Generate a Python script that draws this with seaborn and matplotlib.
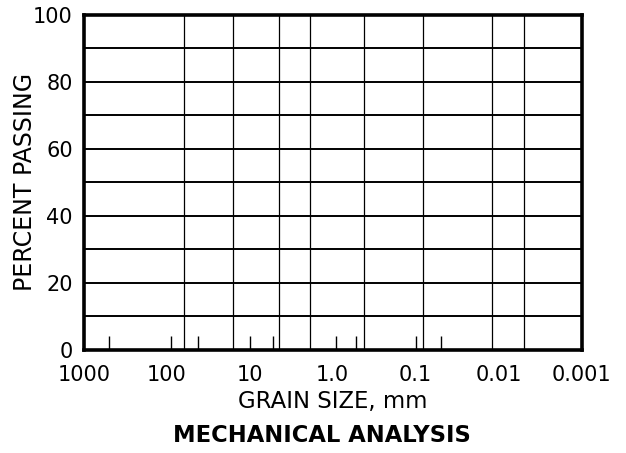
import matplotlib
matplotlib.use("Agg")
import matplotlib.pyplot as plt
import seaborn as sns
from matplotlib.ticker import FixedLocator, NullFormatter

# grain size axis (mm)
decade_ticks = [1000, 100, 10, 1, 0.1, 0.01, 0.001]
decade_labels = ["1000", "100", "10", "1.0", "0.1", "0.01", "0.001"]
sieve_lines = [63, 16, 4.5, 1.9, 0.42, 0.081, 0.012, 0.005]
short_marks = [500, 90, 42, 10, 5.3, 0.92, 0.53, 0.1, 0.049]

# percent passing axis
pct_ticks = [0, 20, 40, 60, 80, 100]
pct_lines = [10, 20, 30, 40, 50, 60, 70, 80, 90]

sns.set_style("white")
plt.rcParams['font.family'] = ['DejaVu Sans']

fig = plt.figure(figsize=(6.26, 4.53), dpi=100)
ax = fig.add_axes([84 / 626, 1 - 349.5 / 453, 497.5 / 626, 334.5 / 453])
ax.set_xscale('log')

# full height sieve lines, short marks at the bottom, percent lines
sns.rugplot(x=sieve_lines, height=1, ax=ax, color='black', linewidth=0.9,
            expand_margins=False)
sns.rugplot(x=short_marks, height=0.04, ax=ax, color='black', linewidth=1.0,
            expand_margins=False)
sns.rugplot(y=pct_lines, height=1, ax=ax, color='black', linewidth=1.4,
            expand_margins=False)

ax.set_xlim(1000, 0.001)
ax.set_ylim(0, 100)

ax.xaxis.set_major_locator(FixedLocator(decade_ticks))
ax.xaxis.set_minor_locator(FixedLocator([]))
ax.xaxis.set_minor_formatter(NullFormatter())
ax.set_xticklabels(decade_labels)
ax.set_yticks(pct_ticks)
ax.set_yticklabels([str(v) for v in pct_ticks])
ax.tick_params(axis='x', length=0, pad=11, labelsize=15, colors='black')
ax.tick_params(axis='y', length=0, pad=8, labelsize=15, colors='black')

for side in ['left', 'right', 'top', 'bottom']:
    ax.spines[side].set_visible(True)
    ax.spines[side].set_color('black')
    ax.spines[side].set_linewidth(2.6)

ax.set_xlabel('GRAIN SIZE, mm', fontsize=16.4, labelpad=4, color='black')
ax.set_ylabel('PERCENT PASSING', fontsize=17, color='black')
ax.yaxis.set_label_coords(-(84 - 37) / 497.5, 0.5)

fig.text(322 / 626, 1 - 436 / 453, 'MECHANICAL ANALYSIS', ha='center', va='center',
         fontsize=16.3, fontweight='bold', color='black')

fig.savefig('out.png', dpi=100)
